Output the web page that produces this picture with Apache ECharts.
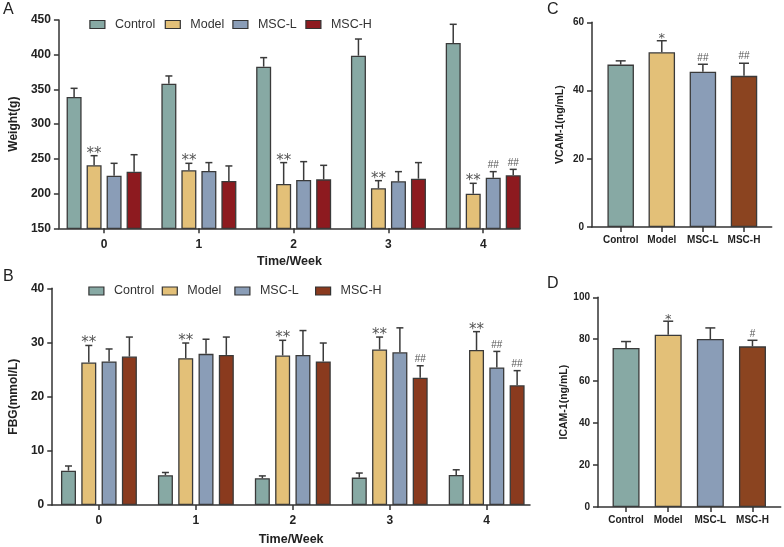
<!DOCTYPE html>
<html><head><meta charset="utf-8">
<script src="https://cdn.jsdelivr.net/npm/echarts@6/dist/echarts.min.js"></script>
<style>html,body{margin:0;padding:0;background:#fff}#c{width:784px;height:547px}</style>
</head><body><div id="c"></div>
<script>
// ---------- data ----------
const weeks = ['0', '1', '2', '3', '4'];
const groups = ['Control', 'Model', 'MSC-L', 'MSC-H'];

// Panel A: body weight (g), mean and SD
const weightControl = [339, 358.3, 382.8, 398.6, 416.9];
const weightModel   = [240.7, 233.5, 213.8, 207.6, 199.9];
const weightMscL    = [225.8, 232.6, 219.6, 217.7, 222.9];
const weightMscH    = [231.6, 218.2, 220.5, 221.5, 226.3];
const weightControlSD = [12.6, 11.1, 13.0, 24.0, 26.9];
const weightModelSD   = [13.9, 10.1, 30.8, 11.0, 14.9];
const weightMscLSD    = [17.8, 12.0, 26.4, 13.9, 8.7];
const weightMscHSD    = [24.4, 21.6, 20.2, 23.1, 8.6];
const weightMarksModel = ['**', '**', '**', '**', '**'];
const weightMarksMscL  = ['', '', '', '', '##'];
const weightMarksMscH  = ['', '', '', '', '##'];

// Panel B: FBG (mmol/L)
const fbgControl = [6.34, 5.5, 4.94, 5.06, 5.55];
const fbgModel   = [26.3, 27.1, 27.6, 28.7, 28.6];
const fbgMscL    = [26.5, 27.9, 27.7, 28.2, 25.4];
const fbgMscH    = [27.4, 27.7, 26.5, 23.5, 22.1];
const fbgControlSD = [0.86, 0.5, 0.43, 0.84, 0.95];
const fbgModelSD   = [3.15, 2.8, 2.8, 2.3, 3.4];
const fbgMscLSD    = [2.3, 2.7, 4.5, 4.5, 2.95];
const fbgMscHSD    = [3.6, 3.3, 3.4, 2.2, 2.7];
const fbgMarksModel = ['**', '**', '**', '**', '**'];
const fbgMarksMscL  = ['', '', '', '', '##'];
const fbgMarksMscH  = ['', '', '', '##', '##'];

// Panel C: VCAM-1 (ng/mL)
const vcam   = [47.6, 51.2, 45.5, 44.3];
const vcamSD = [1.1, 3.4, 2.2, 3.7];
const vcamMarks = ['', '*', '##', '##'];

// Panel D: ICAM-1 (ng/mL)
const icam   = [75.8, 82.2, 80.1, 76.6];
const icamSD = [3.1, 6.4, 5.3, 2.9];
const icamMarks = ['', '*', '', '#'];

// ---------- style ----------
const FONT = 'Liberation Sans';
const INK = '#333';
const cControl = '#87A9A4', cModel = '#E3C078', cMscL = '#8A9DB7';
const cMscH_A = '#8D1A1F', cMscH_B = '#8A3A1E', cMscH_CD = '#8B4420';

function errRender(off, capW, marks, starSize) {
  return function (params, api) {
    const i = api.value(0), m = api.value(1), s = api.value(2);
    const b = api.coord([i, m]);
    const t = api.coord([i, m + s]);
    const x = b[0] + off;
    const ls = { stroke: '#3a3a3a', lineWidth: 1.5 };
    const ch = [
      { type: 'line', shape: { x1: x, y1: b[1], x2: x, y2: t[1] }, style: ls },
      { type: 'line', shape: { x1: x - capW / 2, y1: t[1], x2: x + capW / 2, y2: t[1] }, style: ls }
    ];
    const mk = marks[params.dataIndex];
    if (mk) {
      const star = mk.indexOf('*') >= 0;
      ch.push({ type: 'text', style: {
        text: mk, x: x, y: t[1] - (star ? 2 : 6.5), align: 'center',
        verticalAlign: 'middle',
        fill: '#555',
        font: star ? 'normal ' + starSize + 'px "DejaVu Sans"' : 'normal 10px "Liberation Sans"'
      } });
    }
    return { type: 'group', children: ch };
  };
}

function xAxisCfg(idx, min, max, labels, fs, margin, name, nameGap) {
  const vals = labels.map((_, i) => i);
  return {
    type: 'value', gridIndex: idx, min: min, max: max,
    axisLine: { show: true, onZero: false, lineStyle: { color: INK, width: 1.5 } },
    axisTick: { show: true, customValues: vals, length: 5, lineStyle: { color: INK, width: 1.5 } },
    axisLabel: { customValues: vals, formatter: v => labels[Math.round(v)], fontFamily: FONT, fontWeight: 'bold', fontSize: fs, color: '#222', margin: margin },
    splitLine: { show: false },
    name: name, nameLocation: 'middle', nameGap: nameGap,
    nameTextStyle: { fontFamily: FONT, fontWeight: 'bold', fontSize: 12.5, color: '#222' }
  };
}
function yAxisCfg(idx, min, max, interval, fs, name, nameGap, nfs) {
  return {
    type: 'value', gridIndex: idx, min: min, max: max, interval: interval,
    axisLine: { show: true, onZero: false, lineStyle: { color: INK, width: 1.5 } },
    axisTick: { show: true, length: 5, lineStyle: { color: INK, width: 1.5 } },
    axisLabel: { fontFamily: FONT, fontWeight: 'bold', fontSize: fs, color: '#222', margin: 8 },
    splitLine: { show: false },
    name: name, nameLocation: 'middle', nameGap: nameGap, nameRotate: 90,
    nameTextStyle: { fontFamily: FONT, fontWeight: 'bold', fontSize: nfs, color: '#222' }
  };
}

const series = [];
function groupedPanel(idx, means, sds, marks, colors, bw, gap, capW) {
  means.forEach((arr, k) => {
    series.push({
      type: 'bar', name: groups[k], xAxisIndex: idx, yAxisIndex: idx,
      barWidth: bw, barGap: (gap / bw * 100) + '%',
      data: arr.map((v, i) => [i, v]),
      itemStyle: { color: colors[k], borderColor: '#3a3a3a', borderWidth: 1.3 },
      clip: true, silent: true, z: 2
    });
    const off = (k - (means.length - 1) / 2) * (bw + gap);
    series.push({
      type: 'custom', xAxisIndex: idx, yAxisIndex: idx,
      data: arr.map((v, i) => [i, v, sds[k][i]]),
      renderItem: errRender(off, capW, marks[k], 15), silent: true, z: 3
    });
  });
}
function singlePanel(idx, vals, sds, marks, colors, bw, capW) {
  series.push({
    type: 'bar', xAxisIndex: idx, yAxisIndex: idx, barWidth: bw,
    data: vals.map((v, i) => ({ value: [i, v], itemStyle: { color: colors[i] } })),
    itemStyle: { borderColor: '#3a3a3a', borderWidth: 1.3 },
    clip: true, silent: true, z: 2
  });
  series.push({
    type: 'custom', xAxisIndex: idx, yAxisIndex: idx,
    data: vals.map((v, i) => [i, v, sds[i]]),
    renderItem: errRender(0, capW, marks, 13), silent: true, z: 3
  });
}

groupedPanel(0, [weightControl, weightModel, weightMscL, weightMscH],
  [weightControlSD, weightModelSD, weightMscLSD, weightMscHSD],
  [['', '', '', '', ''], weightMarksModel, weightMarksMscL, weightMarksMscH],
  [cControl, cModel, cMscL, cMscH_A], 15, 5, 7);
groupedPanel(1, [fbgControl, fbgModel, fbgMscL, fbgMscH],
  [fbgControlSD, fbgModelSD, fbgMscLSD, fbgMscHSD],
  [['', '', '', '', ''], fbgMarksModel, fbgMarksMscL, fbgMarksMscH],
  [cControl, cModel, cMscL, cMscH_B], 15, 5.3, 7);
singlePanel(2, vcam, vcamSD, vcamMarks, [cControl, cModel, cMscL, cMscH_CD], 26.5, 10);
singlePanel(3, icam, icamSD, icamMarks, [cControl, cModel, cMscL, cMscH_CD], 27, 10);

function legendItem(name, color, left, top) {
  return {
    left: left, top: top, padding: 0, itemWidth: 15, itemHeight: 8, icon: 'rect',
    selectedMode: false,
    data: [{ name: name, itemStyle: { color: color, borderColor: '#333', borderWidth: 1.2 } }],
    textStyle: { fontFamily: FONT, fontSize: 12.5, color: '#333', padding: [0, 0, 0, 5] }
  };
}
const legendA = [cControl, cModel, cMscL, cMscH_A];
const legendB = [cControl, cModel, cMscL, cMscH_B];
const legendLeftA = [89.3, 164.7, 232.3, 305.3];
const legendLeftB = [88.3, 161.7, 234.3, 315];
const legends = [];
groups.forEach((g, k) => legends.push(legendItem(g, legendA[k], legendLeftA[k], 18)));
groups.forEach((g, k) => legends.push(legendItem(g, legendB[k], legendLeftB[k], 284.5)));

const letter = (t, l, tp) => ({ text: t, left: l, top: tp, padding: 0,
  textStyle: { fontFamily: FONT, fontWeight: 'normal', fontSize: 16, color: '#222' } });

const option = {
  animation: false,
  textStyle: { fontFamily: FONT },
  title: [letter('A', 3, 2), letter('B', 3, 269), letter('C', 547, 2), letter('D', 547, 276)],
  legend: legends,
  grid: [
    { left: 52.5, top: 20, width: 467.5, height: 208.3 },
    { left: 46, top: 288.3, width: 484, height: 218.2 },
    { left: 592, top: 22.3, width: 179.7, height: 204.7 },
    { left: 598, top: 297.3, width: 182.7, height: 209.7 }
  ],
  xAxis: [
    xAxisCfg(0, -0.4766, 4.388, weeks, 12, 10, 'Time/Week', 27),
    xAxisCfg(1, -0.4817, 4.447, weeks, 12, 10, 'Time/Week', 28),
    xAxisCfg(2, -0.698, 3.674, groups, 10, 8, '', 0),
    xAxisCfg(3, -0.666, 3.67, groups, 10, 8, '', 0)
  ],
  yAxis: [
    yAxisCfg(0, 150, 450, 50, 12, 'Weight(g)', 35, 12),
    yAxisCfg(1, 0, 40, 10, 12, 'FBG(mmol/L)', 28, 12),
    yAxisCfg(2, 0, 60, 20, 10, 'VCAM-1(ng/mL)', 26, 10.5),
    yAxisCfg(3, 0, 100, 20, 10, 'ICAM-1(ng/mL)', 27, 10.5)
  ],
  series: series
};
const chart = echarts.init(document.getElementById('c'), null, { renderer: 'canvas' });
chart.setOption(option);
</script></body></html>
